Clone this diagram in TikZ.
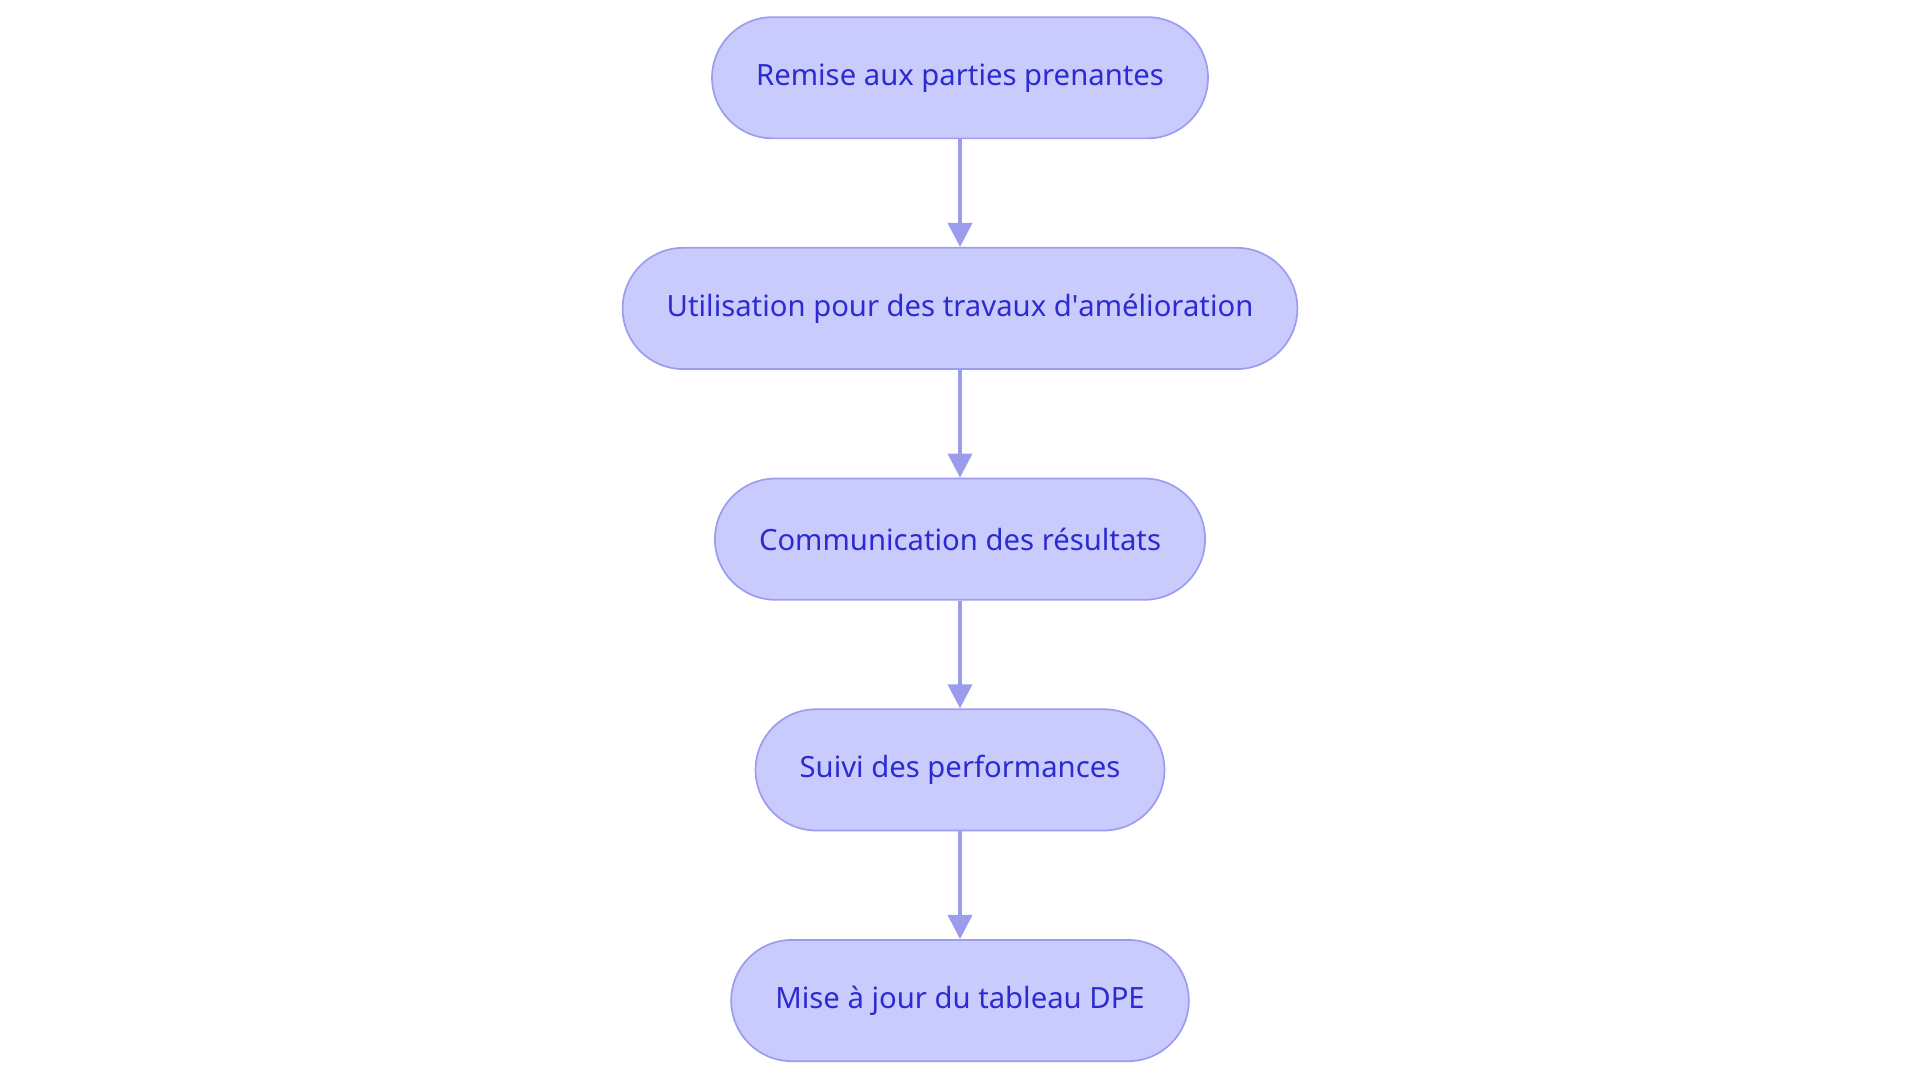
\documentclass[tikz,border=0pt]{standalone}
\usepackage{fontspec}
\setmainfont{Noto Sans}
\usetikzlibrary{positioning,arrows.meta}
\definecolor{boxfill}{HTML}{CACBFD}
\definecolor{boxline}{HTML}{9C9DF0}
\definecolor{boxtext}{HTML}{2B2BD0}
\definecolor{arrowcol}{HTML}{9B9CEC}
\tikzset{
 stage/.style={draw=boxline, line width=1pt, fill=boxfill, text=boxtext,
   rounded corners=1.2375cm, minimum height=2.475cm, inner xsep=0.9cm,
   font=\fontsize{17}{19}\selectfont},
 link/.style={draw=arrowcol, line width=2.2pt, -{Triangle[length=14pt,width=14pt]}}
}
\begin{document}
\begin{tikzpicture}[node distance=2.2cm]
\useasboundingbox (0,0) rectangle (39.2,-22.11);
\node[stage] (remise) at (19.6,-1.5875) {Remise aux parties prenantes};
\node[stage, below=of remise] (travaux) {Utilisation pour des travaux d\textquotesingle amélioration};
\node[stage, below=of travaux] (comm) {Communication des résultats};
\node[stage, below=of comm] (suivi) {Suivi des performances};
\node[stage, below=of suivi] (maj) {Mise à jour du tableau DPE};
\draw[link] (remise) -- (travaux);
\draw[link] (travaux) -- (comm);
\draw[link] (comm) -- (suivi);
\draw[link] (suivi) -- (maj);
\end{tikzpicture}
\end{document}
